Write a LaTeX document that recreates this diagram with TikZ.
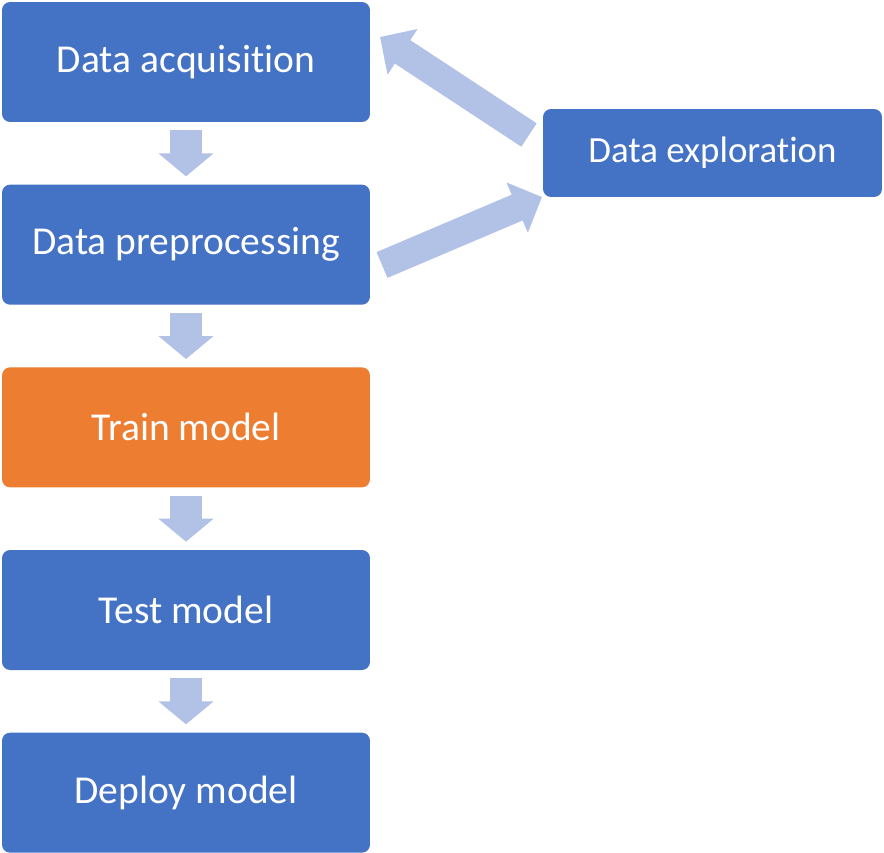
\documentclass[tikz,border=0pt]{standalone}
\usepackage{fontspec}
\setmainfont{Carlito}[Ligatures=CommonOff]
\usetikzlibrary{arrows.meta, positioning, calc}

\definecolor{stepblue}{HTML}{4472C4}
\definecolor{steporange}{HTML}{ED7D31}
\definecolor{flowblue}{HTML}{B2C1E6}

\tikzset{
    stage/.style = {rectangle, rounded corners=0.16cm, fill=stepblue, text=white,
        minimum width=7.36cm, minimum height=2.4cm, inner sep=0pt,
        font=\fontsize{22.5}{27}\selectfont},
    downflow/.style = {draw=flowblue, line width=0.64cm,
        -{Triangle[width=1.08cm, length=0.46cm]}, shorten <=0.16cm, shorten >=0.16cm},
    sideflow/.style = {draw=flowblue, line width=0.56cm,
        -{Triangle[width=1.06cm, length=0.54cm]}}
}

\begin{document}
\begin{tikzpicture}[x=0.02cm, y=-0.02cm]
    \useasboundingbox (0,0) rectangle (884,852);
    % Pipeline stages
    \node[stage] (acq) at (186,62) {Data acquisition};
    \node[stage, below=1.24cm of acq] (prep) {Data preprocessing};
    \node[stage, fill=steporange, below=1.24cm of prep] (train) {Train model};
    \node[stage, below=1.24cm of train] (test) {Test model};
    \node[stage, below=1.24cm of test] (deploy) {Deploy model};
    % Side stage
    \node[stage, minimum width=6.78cm, minimum height=1.76cm,
        font=\fontsize{21}{25}\selectfont] (explore) at (712.5,153) {Data exploration};
    % Downward flow
    \draw[downflow] (acq) -- (prep);
    \draw[downflow] (prep) -- (train);
    \draw[downflow] (train) -- (test);
    \draw[downflow] (test) -- (deploy);
    % Loop through exploration
    \coordinate (back tail) at (529,135);
    \coordinate (back tip) at (380,37);
    \coordinate (out tail) at (382,265);
    \coordinate (out tip) at (542,197);
    \draw[sideflow] (out tail) -- (out tip);
    \draw[sideflow] (back tail) -- (back tip);
\end{tikzpicture}
\end{document}
